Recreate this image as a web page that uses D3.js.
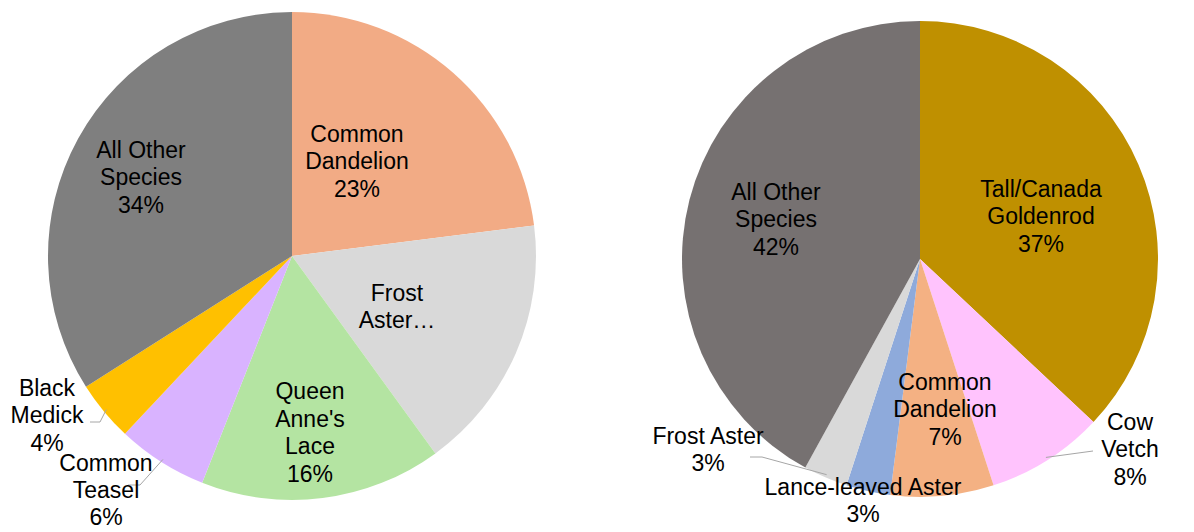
<!DOCTYPE html>
<html><head><meta charset="utf-8">
<script src="https://cdn.jsdelivr.net/npm/d3@7"></script>
<style>html,body{margin:0;padding:0;background:#fff;}svg{display:block;}</style>
</head><body>
<script>
// ---- data ----
const leftCategories = ["Common Dandelion", "Frost Aster", "Queen Anne's Lace", "Common Teasel", "Black Medick", "All Other Species"];
const leftValues = [23, 17, 16, 6, 4, 34];
const leftLabels = [["Common","Dandelion","23%"], ["Frost","Aster…"], ["Queen","Anne's","Lace","16%"], ["Common","Teasel","6%"], ["Black","Medick","4%"], ["All Other","Species","34%"]];
const leftColors = ["#F2AB85", "#D9D9D9", "#B4E4A2", "#D9B3FF", "#FFC000", "#7F7F7F"];

const rightCategories = ["Tall/Canada Goldenrod", "Cow Vetch", "Common Dandelion", "Lance-leaved Aster", "Frost Aster", "All Other Species"];
const rightValues = [37, 8, 7, 3, 3, 42];
const rightLabels = [["Tall/Canada","Goldenrod","37%"], ["Cow","Vetch","8%"], ["Common","Dandelion","7%"], ["Lance-leaved Aster","3%"], ["Frost Aster","3%"], ["All Other","Species","42%"]];
const rightColors = ["#BF9000", "#FFC3FD", "#F4B183", "#8EAADB", "#D9D9D9", "#767171"];

// ---- layout (offsets from pie centre) ----
const leftLayout = {cx: 292, cy: 256, r: 244,
  labelPos: [[65,-95],[105,50],[18,176],[-186,234],[-245,159],[-151,-79]],
  lineHeights: [27.5, 27.5, 27.5, 27, 27.5, 27.5],
  leaders: [null, null, null, [[-164,229],[-152,229]], [[-202,166],[-192,166]], null]};
const rightLayout = {cx: 920, cy: 259, r: 238,
  labelPos: [[121,-43],[210,190],[25,150],[-57,241],[-212,190],[-144,-40]],
  lineHeights: [27.5, 27.5, 27.5, 27.5, 27.5, 27.5],
  leaders: [null, [[173,192]], null, null, [[-170,198],[-158,198]], null]};

const W = 1194, H = 532, FS = 23;
const svg = d3.select("body").append("svg").attr("width", W).attr("height", H);

function drawPie(values, labels, colors, L) {
  const pie = d3.pie().sort(null).value(d => d)(values);
  const arc = d3.arc().innerRadius(0).outerRadius(L.r);
  const g = svg.append("g").attr("transform", `translate(${L.cx},${L.cy})`);
  g.selectAll("path.slice").data(pie).join("path").attr("class","slice")
    .attr("d", arc).attr("fill", (d,i) => colors[i]);
  // leader lines
  pie.forEach((d, i) => {
    const ld = L.leaders[i];
    if (!ld) return;
    const mid = (d.startAngle + d.endAngle) / 2;
    const rr = L.r - 3;
    const end = [Math.sin(mid) * rr, -Math.cos(mid) * rr];
    const pts = ld.concat([end]);
    g.append("path").attr("d", d3.line()(pts)).attr("fill","none")
      .attr("stroke","#A6A6A6").attr("stroke-width",1);
  });
  // labels
  pie.forEach((d, i) => {
    const lines = labels[i];
    const [x, y] = L.labelPos[i];
    const LH = L.lineHeights[i];
    const t = g.append("text").attr("text-anchor","middle")
      .attr("font-family","'Liberation Sans', Arial, sans-serif")
      .attr("font-size", FS).attr("fill","#000");
    const y0 = y - (lines.length - 1) * LH / 2 + FS * 0.36;
    lines.forEach((s, k) => t.append("tspan").attr("x", x).attr("y", y0 + k * LH).text(s));
  });
}
drawPie(leftValues, leftLabels, leftColors, leftLayout);
drawPie(rightValues, rightLabels, rightColors, rightLayout);
</script>
</body></html>
